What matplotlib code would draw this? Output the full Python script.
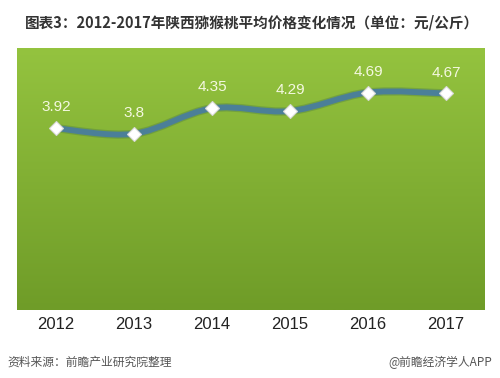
import matplotlib
matplotlib.use("Agg")
import matplotlib.pyplot as plt
import numpy as np
from matplotlib.path import Path
from matplotlib.patches import PathPatch
import matplotlib.colors as mcolors

plt.rcParams['font.family'] = ['Noto Sans CJK SC', 'DejaVu Sans']

years = ["2012", "2013", "2014", "2015", "2016", "2017"]
prices = [3.92, 3.8, 4.35, 4.29, 4.69, 4.67]
title = "图表3：2012-2017年陕西猕猴桃平均价格变化情况（单位：元/公斤）"
source = "资料来源：前瞻产业研究院整理"
credit = "@前瞻经济学人APP"

W, H = 500, 378
fig = plt.figure(figsize=(W/100, H/100), dpi=100)
fig.patch.set_facecolor("white")
ax = fig.add_axes([17/W, 1-310/H, 468/W, 262/H])
n = len(years)
ax.set_xlim(-0.5, n-0.5)
ax.set_ylim(0, 5.65)

# gradient background
top = np.array(mcolors.to_rgb("#94c33f"))
bot = np.array(mcolors.to_rgb("#6f9c28"))
t = np.linspace(0, 1, 256)[:, None]
grad = (top*(1-t) + bot*t)[:, None, :]
ax.imshow(grad, extent=[-0.5, n-0.5, 0, 5.65], aspect='auto', zorder=0)

# smooth line via bezier path
xs = np.arange(n)
ys = np.array(prices)
verts = [(xs[0], ys[0])]
codes = [Path.MOVETO]
k = 1/6
for i in range(n-1):
    p0 = (xs[max(i-1, 0)], ys[max(i-1, 0)])
    p1 = (xs[i], ys[i])
    p2 = (xs[i+1], ys[i+1])
    p3 = (xs[min(i+2, n-1)], ys[min(i+2, n-1)])
    c1 = (p1[0] + (p2[0]-p0[0])*k, p1[1] + (p2[1]-p0[1])*k)
    c2 = (p2[0] - (p3[0]-p1[0])*k, p2[1] - (p3[1]-p1[1])*k)
    verts += [c1, c2, p2]
    codes += [Path.CURVE4]*3
path = Path(verts, codes)
ax.add_patch(PathPatch(path, facecolor='none', edgecolor='#3d6b4a', lw=6.0, alpha=0.3, zorder=2,
                       capstyle='round'))
ax.add_patch(PathPatch(path, facecolor='none', edgecolor='#4b7f98', lw=4.2, zorder=3, capstyle='round'))
ax.plot(xs, ys, linestyle='none', marker='D', ms=7, mfc='white', mec='#d8d8d8', mew=0.8, zorder=4)

for x, y in zip(xs, ys):
    ax.text(x, y+0.3, f"{y:g}", ha='center', va='bottom', fontsize=11, color='#f4f8e0',
            family=['Liberation Sans'], zorder=5)

ax.set_xticks(xs)
ax.set_xticklabels(years, fontsize=12, color='#222222', family=['Liberation Sans'])
ax.tick_params(axis='x', length=0, pad=5)
ax.set_yticks([])
for s in ax.spines.values():
    s.set_visible(False)

fig.text(25/W, 1-22/H, title, fontsize=10.5, fontweight='bold', color='#333333', va='center', ha='left')
fig.text(7/W, 1-362/H, source, fontsize=8.5, color='#555555', style='italic', va='center', ha='left')
fig.text(492/W, 1-362/H, credit, fontsize=8.5, color='#555555', va='center', ha='right')

fig.savefig("out.png", dpi=100, facecolor='white')
